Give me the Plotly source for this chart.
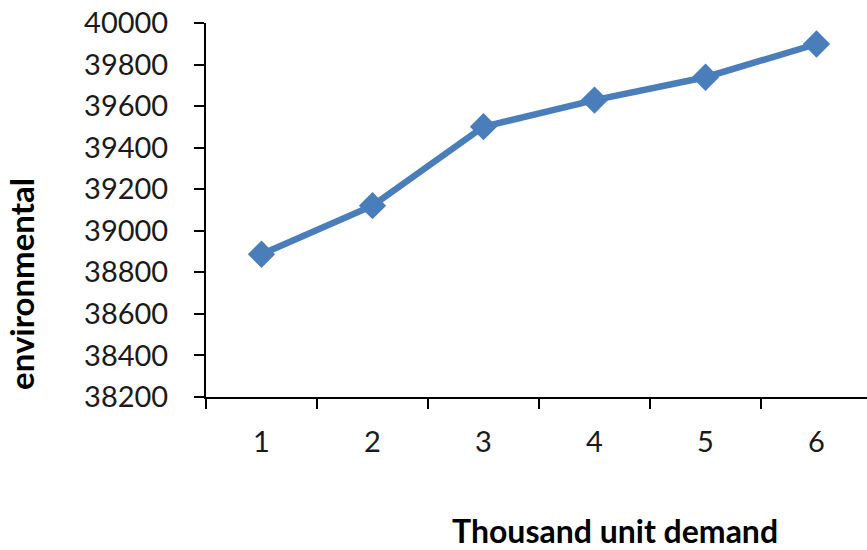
import plotly.graph_objects as go

# Demand levels (thousand units) and the environmental measure at each level
demand = ["1", "2", "3", "4", "5", "6"]
environmental = [38887, 39121, 39501, 39629, 39739, 39899]

y_ticks = [38200, 38400, 38600, 38800, 39000, 39200, 39400, 39600, 39800, 40000]
y_tick_labels = [str(v) for v in y_ticks]

LINE_BLUE = "#4A7EBB"
FONT = "Lato, 'Open Sans', sans-serif"

fig = go.Figure(
    go.Scatter(
        x=demand,
        y=environmental,
        mode="lines+markers",
        line=dict(color=LINE_BLUE, width=6.5),
        marker=dict(symbol="diamond", size=21, color=LINE_BLUE),
        showlegend=False,
    )
)

fig.update_layout(
    width=867,
    height=550,
    margin=dict(l=206, r=0, t=23, b=153),
    paper_bgcolor="white",
    plot_bgcolor="white",
    font=dict(family=FONT, color="#1a1a1a", size=29),
    xaxis=dict(
        type="category",
        range=[-0.5, 5.455],
        tickson="boundaries",
        ticks="outside",
        ticklen=10,
        tickwidth=2,
        tickcolor="black",
        showline=True,
        linecolor="black",
        linewidth=2,
        showgrid=False,
        zeroline=False,
        ticklabelstandoff=18,
        tickfont=dict(size=29),
    ),
    yaxis=dict(
        range=[38200, 40000],
        tickvals=y_ticks,
        ticktext=y_tick_labels,
        ticks="outside",
        ticklen=10,
        tickwidth=2,
        tickcolor="black",
        showline=True,
        linecolor="black",
        linewidth=2,
        showgrid=False,
        zeroline=False,
        ticklabelstandoff=20,
        tickfont=dict(size=29),
    ),
    annotations=[
        dict(
            text="<b>Thousand unit demand</b>",
            xref="paper", yref="paper",
            x=0.619, y=-0.356,
            xanchor="center", yanchor="middle",
            showarrow=False,
            font=dict(size=32, family=FONT, color="black"),
        ),
        dict(
            text="<b>environmental</b>",
            xref="paper", yref="paper",
            x=-0.28, y=0.302,
            xanchor="center", yanchor="middle",
            textangle=-90,
            showarrow=False,
            font=dict(size=33, family=FONT, color="black"),
        ),
    ],
)

fig.write_html("out.html")
